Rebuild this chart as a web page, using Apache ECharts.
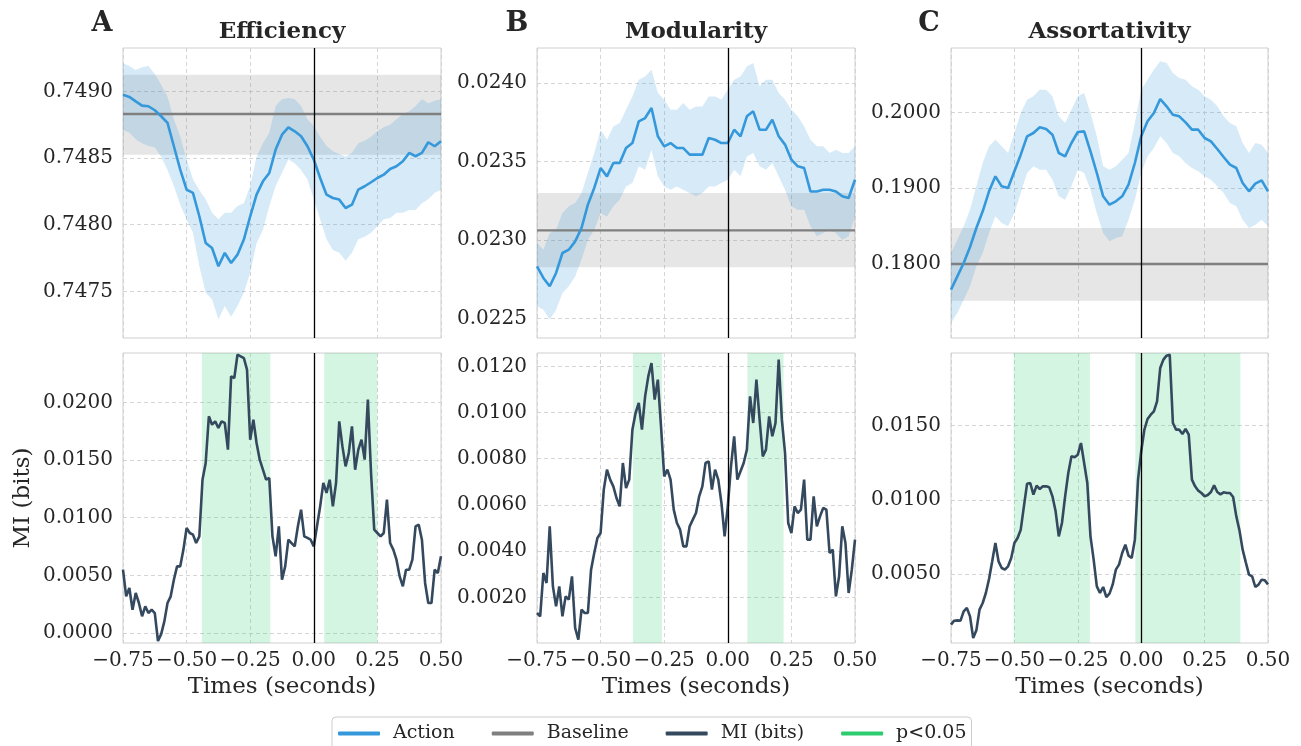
<!DOCTYPE html>
<html><head><meta charset="utf-8">
<script src="https://cdn.jsdelivr.net/npm/echarts@6/dist/echarts.min.js"></script>
<style>html,body{margin:0;padding:0;background:#fff}#chart{width:1301px;height:746px}</style>
</head><body><div id="chart"></div>
<script>
// ---------- DATA ----------
const panelTitles = ['Efficiency', 'Modularity', 'Assortativity'];
const panelLetters = ['A', 'B', 'C'];
const xTicks = [-0.75, -0.5, -0.25, 0, 0.25, 0.5];

// Top row: Action mean (0.025 s steps from -0.75 to 0.5)
const actionEff = [0.748975,0.748958,0.748925,0.748893,0.748888,0.748858,0.748813,0.748763,0.748588,0.748413,
0.748263,0.748238,0.748063,0.747863,0.747825,0.747688,0.747788,0.747713,0.747775,0.747888,
0.748063,0.748225,0.748325,0.748388,0.748563,0.748675,0.748730,0.748700,0.748663,0.748588,
0.748488,0.748350,0.748225,0.748200,0.748188,0.748125,0.748150,0.748263,0.748288,0.748318,
0.748350,0.748375,0.748418,0.748438,0.748475,0.748538,0.748513,0.748538,0.748618,0.748588,
0.748625];
const actionEffUpper = [0.74921,0.74919,0.74916,0.74918,0.74919,0.74913,0.74905,0.74896,0.74879,0.74866,
0.74849,0.74834,0.74826,0.74819,0.74809,0.74804,0.74809,0.74809,0.74814,0.74816,
0.74829,0.74851,0.74861,0.74869,0.74889,0.74894,0.74895,0.74894,0.74889,0.74879,
0.74874,0.74866,0.74859,0.74855,0.74853,0.74851,0.74854,0.74861,0.74863,0.74866,
0.74870,0.74873,0.74875,0.74879,0.74883,0.74885,0.74889,0.74894,0.74891,0.74893,
0.74894];
const actionEffLower = [0.74871,0.74869,0.74864,0.74861,0.74859,0.74858,0.74851,0.74841,0.74829,0.74815,
0.74804,0.74794,0.74769,0.74749,0.74744,0.74729,0.74739,0.74731,0.74739,0.74749,
0.74764,0.74786,0.74796,0.74814,0.74829,0.74839,0.74849,0.74846,0.74841,0.74834,
0.74819,0.74804,0.74789,0.74781,0.74779,0.74773,0.74779,0.74789,0.74791,0.74794,
0.74799,0.74804,0.74805,0.74809,0.74809,0.74811,0.74811,0.74816,0.74819,0.74824,
0.74826];

const actionMod = [0.022833,0.022759,0.022706,0.022791,0.022918,0.022939,0.022992,0.023077,0.023226,0.023332,
0.023459,0.023406,0.023491,0.023491,0.023586,0.023618,0.023756,0.023777,0.023841,0.023661,
0.023597,0.023618,0.023586,0.023586,0.023544,0.023544,0.023544,0.023650,0.023639,0.023618,
0.023618,0.023703,0.023661,0.023788,0.023820,0.023703,0.023703,0.023767,0.023661,0.023608,
0.023512,0.023470,0.023459,0.023310,0.023310,0.023321,0.023321,0.023310,0.023279,0.023268,
0.023385];
const actionModUpper = [0.022982,0.022939,0.023045,0.023066,0.023173,0.023215,0.023236,0.023300,0.023427,0.023554,
0.023703,0.023639,0.023724,0.023745,0.023830,0.023915,0.024021,0.024042,0.024085,0.023936,
0.023894,0.023830,0.023830,0.023873,0.023830,0.023851,0.023851,0.023915,0.023915,0.023894,
0.023958,0.024021,0.024042,0.024106,0.024127,0.023979,0.024021,0.024021,0.023936,0.023894,
0.023830,0.023788,0.023724,0.023639,0.023597,0.023597,0.023554,0.023576,0.023554,0.023554,
0.023597];
const actionModLower = [0.022579,0.022557,0.022494,0.022557,0.022663,0.022706,0.022769,0.022876,0.023003,0.023066,
0.023173,0.023151,0.023215,0.023257,0.023342,0.023364,0.023470,0.023448,0.023576,0.023406,
0.023342,0.023321,0.023342,0.023321,0.023300,0.023279,0.023300,0.023342,0.023342,0.023364,
0.023385,0.023448,0.023406,0.023533,0.023554,0.023470,0.023448,0.023491,0.023406,0.023321,
0.023215,0.023194,0.023194,0.023088,0.023024,0.023045,0.023066,0.023045,0.023003,0.023024,
0.023151];

const actionAss = [0.176613,0.178372,0.180130,0.182240,0.184746,0.186944,0.189581,0.191560,0.190241,0.190021,
0.192219,0.194417,0.196835,0.197274,0.198022,0.197802,0.197055,0.194637,0.194197,0.195956,
0.197406,0.197494,0.194857,0.191999,0.188922,0.187823,0.188263,0.188922,0.190461,0.193318,
0.196835,0.198813,0.199912,0.201758,0.200791,0.199692,0.199472,0.198681,0.197714,0.197714,
0.196615,0.196175,0.195164,0.194109,0.193098,0.192659,0.190680,0.189581,0.190593,0.191032,
0.189581];
const actionAssUpper = [0.181449,0.183207,0.184966,0.187164,0.190241,0.193318,0.195516,0.196395,0.195516,0.194637,
0.197274,0.199912,0.201670,0.202110,0.202989,0.202989,0.202110,0.199472,0.198593,0.200352,
0.202110,0.202550,0.199912,0.196835,0.192878,0.192439,0.192878,0.193758,0.194637,0.198593,
0.202989,0.204308,0.205627,0.206726,0.206506,0.205187,0.204528,0.204308,0.203429,0.202989,
0.202110,0.201670,0.200791,0.199472,0.198593,0.198154,0.195956,0.194637,0.195956,0.195736,
0.194637];
const actionAssLower = [0.172217,0.173536,0.175294,0.177053,0.179690,0.181449,0.184086,0.186284,0.185405,0.184966,
0.186724,0.189362,0.191999,0.192878,0.192439,0.192439,0.191120,0.188922,0.188482,0.190241,
0.192439,0.191999,0.189801,0.186724,0.184086,0.182987,0.183427,0.183647,0.185845,0.188482,
0.191999,0.194197,0.195296,0.196835,0.195956,0.194637,0.194197,0.193318,0.192659,0.192219,
0.191560,0.191120,0.190241,0.189362,0.188043,0.187604,0.185845,0.184746,0.185185,0.185845,
0.184966];

// Baselines: mean and shaded band
const baselineMean = [0.74883, 0.023062, 0.18];
const baselineLow = [0.748525, 0.022827, 0.175163];
const baselineHigh = [0.749125, 0.0233, 0.184746];

// Bottom row: MI (bits), 0.0125 s steps from -0.75 to 0.5
const miEff = [0.00549,0.00318,0.00390,0.00202,0.00347,0.00260,0.00145,0.00231,0.00173,0.00202,
0.00173,-0.00070,-0.00010,0.00101,0.00260,0.00318,0.00462,0.00578,0.00578,0.00723,
0.00910,0.00867,0.00853,0.00780,0.00838,0.01329,0.01474,0.01879,0.01806,0.01835,
0.01777,0.01835,0.01821,0.01590,0.02225,0.02211,0.02413,0.02399,0.02384,0.02283,
0.01676,0.01850,0.01647,0.01503,0.01416,0.01329,0.01344,0.00838,0.00665,0.00925,
0.00462,0.00578,0.00809,0.00780,0.00751,0.00925,0.01069,0.00838,0.00824,0.00809,
0.00751,0.00925,0.01098,0.01301,0.01214,0.01329,0.01098,0.01301,0.01835,0.01618,
0.01445,0.01561,0.01792,0.01416,0.01590,0.01676,0.01503,0.02023,0.01387,0.00896,
0.00867,0.00838,0.00867,0.01156,0.00780,0.00723,0.00636,0.00491,0.00405,0.00549,
0.00549,0.00636,0.00925,0.00939,0.00809,0.00434,0.00260,0.00260,0.00549,0.00520,
0.00665];
const miMod = [0.001322,0.001177,0.003053,0.002620,0.005074,0.002476,0.001610,0.002476,0.001177,0.002043,
0.001899,0.002909,0.000672,0.000167,0.001466,0.001322,0.001322,0.003198,0.003919,0.004569,
0.004785,0.006661,0.007527,0.007094,0.006805,0.006300,0.005939,0.007815,0.006733,0.007094,
0.009258,0.009980,0.010413,0.009258,0.010701,0.011567,0.012144,0.010557,0.011423,0.009403,
0.007238,0.007527,0.007094,0.005795,0.005218,0.004929,0.004208,0.004208,0.005074,0.005362,
0.005651,0.006372,0.006805,0.007815,0.007887,0.006661,0.007527,0.007094,0.006084,0.004641,
0.005939,0.007671,0.008970,0.007094,0.007455,0.007815,0.008392,0.010701,0.009547,0.011423,
0.009691,0.008104,0.008392,0.009835,0.008970,0.009547,0.012289,0.009691,0.008248,0.005218,
0.004785,0.005939,0.005651,0.005795,0.007094,0.004496,0.004496,0.006372,0.005074,0.005506,
0.005867,0.005795,0.003919,0.004063,0.002043,0.002909,0.005074,0.004352,0.002188,0.003198,
0.004496];
const miAss = [0.001585,0.001855,0.001877,0.001855,0.002484,0.002709,0.002147,0.000687,0.001203,0.002597,
0.003046,0.003720,0.004664,0.005855,0.007091,0.005855,0.005405,0.005293,0.005518,0.006079,
0.007091,0.007428,0.007989,0.009562,0.011090,0.011135,0.010349,0.010955,0.010731,0.010910,
0.010910,0.010843,0.010236,0.009225,0.007540,0.008439,0.010236,0.011809,0.012933,0.012865,
0.013045,0.013832,0.012483,0.011135,0.007540,0.005967,0.004169,0.003720,0.004125,0.003450,
0.003675,0.004282,0.005293,0.005630,0.006416,0.006978,0.006237,0.006079,0.007315,0.011360,
0.013270,0.014730,0.015449,0.015742,0.015966,0.016640,0.018887,0.019449,0.019719,0.019786,
0.015180,0.014730,0.014730,0.014438,0.014775,0.014393,0.011360,0.010910,0.010618,0.010461,
0.010236,0.010326,0.010528,0.010978,0.010528,0.010371,0.010506,0.010461,0.010461,0.010191,
0.008888,0.007944,0.006641,0.005787,0.004956,0.004844,0.004125,0.004282,0.004619,0.004574,
0.004304];

// Significant windows (p<0.05), seconds
const sigEff = [[-0.440, -0.171], [0.041, 0.250]];
const sigMod = [[-0.373, -0.259], [0.077, 0.219]];
const sigAss = [[-0.503, -0.202], [-0.023, 0.391]];

// Y-axis ranges and tick labels
const yRangeTop = [[0.74715, 0.749325], [0.022377, 0.024223], [0.170239, 0.208484]];
const yRangeBottom = [[-0.000867, 0.024276], [0.000023, 0.012577], [0.00035, 0.019898]];
const yTicksTop = [[0.7475, 0.7480, 0.7485, 0.7490], [0.0225, 0.0230, 0.0235, 0.0240], [0.18, 0.19, 0.20]];
const yTicksBottom = [[0.0, 0.005, 0.010, 0.015, 0.020], [0.002, 0.004, 0.006, 0.008, 0.010, 0.012], [0.005, 0.010, 0.015]];

// ---------- BUILD ----------
const tMean = Array.from({length: 51}, (_, i) => +(-0.75 + i * 0.025).toFixed(4));
const tMI = Array.from({length: 101}, (_, i) => +(-0.75 + i * 0.0125).toFixed(5));
const actions = [actionEff, actionMod, actionAss];
const uppers = [actionEffUpper, actionModUpper, actionAssUpper];
const lowers = [actionEffLower, actionModLower, actionAssLower];
const mis = [miEff, miMod, miAss];
const sigs = [sigEff, sigMod, sigAss];

const FONT = 'DejaVu Serif';
const TXT = '#262626';
const gridLeft = [123, 537, 951];
const gridW = [318, 318, 317];

const grids = [], xAxes = [], yAxes = [], series = [], graphics = [];
const pair = (ts, vs) => ts.map((t, i) => [t, vs[i]]);
const vline = {silent: true, symbol: ['none', 'none'], label: {show: false},
  lineStyle: {color: '#000', width: 1.3, type: 'solid'}, data: [{xAxis: 0}]};

// band polygon drawn through the axis scales (api.coord)
function bandRenderer(ts, lo, hi) {
  return function (params, api) {
    if (params.dataIndex !== 0) return null;
    const pts = [];
    for (let i = 0; i < ts.length; i++) pts.push(api.coord([ts[i], hi[i]]));
    for (let i = ts.length - 1; i >= 0; i--) pts.push(api.coord([ts[i], lo[i]]));
    return {type: 'polygon', shape: {points: pts},
      style: {fill: 'rgba(52,152,219,0.2)', stroke: 'none'}};
  };
}

for (let row = 0; row < 2; row++) {
  for (let p = 0; p < 3; p++) {
    const gi = row * 3 + p;
    grids.push({left: gridLeft[p], width: gridW[p], top: row === 0 ? 48 : 353, height: 290,
      show: true, borderColor: '#cfcfcf', borderWidth: 1, backgroundColor: '#fff'});
    xAxes.push({type: 'value', gridIndex: gi, min: -0.75, max: 0.5, interval: 0.25,
      axisLine: {show: false}, axisTick: {show: false},
      splitLine: {show: true, lineStyle: {color: '#d0d0d0', type: [4, 3], width: 0.9}},
      axisLabel: {show: row === 1, fontFamily: FONT, fontSize: 20, color: TXT, margin: 8,
        formatter: v => (v < 0 ? '\u2212' : '') + Math.abs(v).toFixed(2)},
      name: row === 1 ? 'Times (seconds)' : '', nameLocation: 'middle', nameGap: 33,
      nameTextStyle: {fontFamily: FONT, fontSize: 23, color: TXT}});
    const rng = row === 0 ? yRangeTop[p] : yRangeBottom[p];
    const ticks = row === 0 ? yTicksTop[p] : yTicksBottom[p];
    yAxes.push({type: 'value', gridIndex: gi, min: rng[0], max: rng[1], scale: true,
      axisLine: {show: false}, axisTick: {show: false, customValues: ticks},
      splitLine: {show: true, lineStyle: {color: '#d0d0d0', type: [4, 3], width: 0.9}},
      axisLabel: {customValues: ticks, fontFamily: FONT, fontSize: 20, color: TXT, margin: 10,
        formatter: v => v.toFixed(4)},
      name: (row === 1 && p === 0) ? 'MI (bits)' : '', nameLocation: 'middle', nameGap: 88,
      nameRotate: 90, nameTextStyle: {fontFamily: FONT, fontSize: 23, color: TXT}});

    if (row === 0) {
      series.push({name: 'Baseline', type: 'line', xAxisIndex: gi, yAxisIndex: gi, z: 3,
        data: [[-0.75, baselineMean[p]], [0.5, baselineMean[p]]], symbol: 'none', silent: true,
        color: '#7f7f7f', lineStyle: {color: '#7f7f7f', width: 2.4},
        markArea: {silent: true, itemStyle: {color: 'rgba(128,128,128,0.2)'},
          data: [[{yAxis: baselineLow[p]}, {yAxis: baselineHigh[p]}]]}});
      series.push({name: 'actionBand' + p, type: 'custom', xAxisIndex: gi, yAxisIndex: gi, z: 2,
        silent: true, clip: true, renderItem: bandRenderer(tMean, lowers[p], uppers[p]),
        encode: {x: 0, y: [1, 2]},
        data: tMean.map((t, i) => [t, lowers[p][i], uppers[p][i]])});
      series.push({name: 'Action', type: 'line', xAxisIndex: gi, yAxisIndex: gi, z: 4,
        symbol: 'none', color: '#3498db', lineStyle: {color: '#3498db', width: 2.6},
        data: pair(tMean, actions[p]), markLine: vline});
    } else {
      series.push({name: 'MI (bits)', type: 'line', xAxisIndex: gi, yAxisIndex: gi, z: 4,
        symbol: 'none', color: '#34495e', lineStyle: {color: '#34495e', width: 2.6},
        data: pair(tMI, mis[p]), markLine: vline,
        markArea: {silent: true, itemStyle: {color: 'rgba(46,204,113,0.2)'},
          data: sigs[p].map(s => [{xAxis: s[0]}, {xAxis: s[1]}])}});
      series.push({name: 'p<0.05', type: 'line', xAxisIndex: gi, yAxisIndex: gi,
        color: '#2ecc71', data: [], symbol: 'none'});
    }
  }
}

const letterX = [102, 517, 929];
for (let p = 0; p < 3; p++) {
  graphics.push({type: 'text', x: letterX[p], y: 24, style: {text: panelLetters[p],
    font: 'bold 27px "DejaVu Serif"', fill: TXT, textAlign: 'center', textVerticalAlign: 'middle'}});
  graphics.push({type: 'text', x: gridLeft[p] + gridW[p] / 2, y: 32, style: {text: panelTitles[p],
    font: 'bold 23px "DejaVu Serif"', fill: TXT, textAlign: 'center', textVerticalAlign: 'middle'}});
}

const chart = echarts.init(document.getElementById('chart'), null, {renderer: 'canvas'});
chart.setOption({
  animation: false,
  backgroundColor: '#fff',
  grid: grids, xAxis: xAxes, yAxis: yAxes, series: series, graphic: graphics,
  legend: {left: 332, top: 717, itemWidth: 42, itemHeight: 4, itemGap: 37, icon: 'roundRect',
    borderColor: '#cccccc', borderWidth: 1, borderRadius: 4, padding: [7, 5, 10, 6],
    textStyle: {fontFamily: FONT, fontSize: 19, color: TXT, padding: [0, 0, 0, 8]},
    selectedMode: false,
    data: [{name: 'Action', itemStyle: {color: '#3498db'}},
           {name: 'Baseline', itemStyle: {color: '#7f7f7f'}},
           {name: 'MI (bits)', itemStyle: {color: '#34495e'}},
           {name: 'p<0.05', itemStyle: {color: '#2ecc71'}}]}
});
</script></body></html>
